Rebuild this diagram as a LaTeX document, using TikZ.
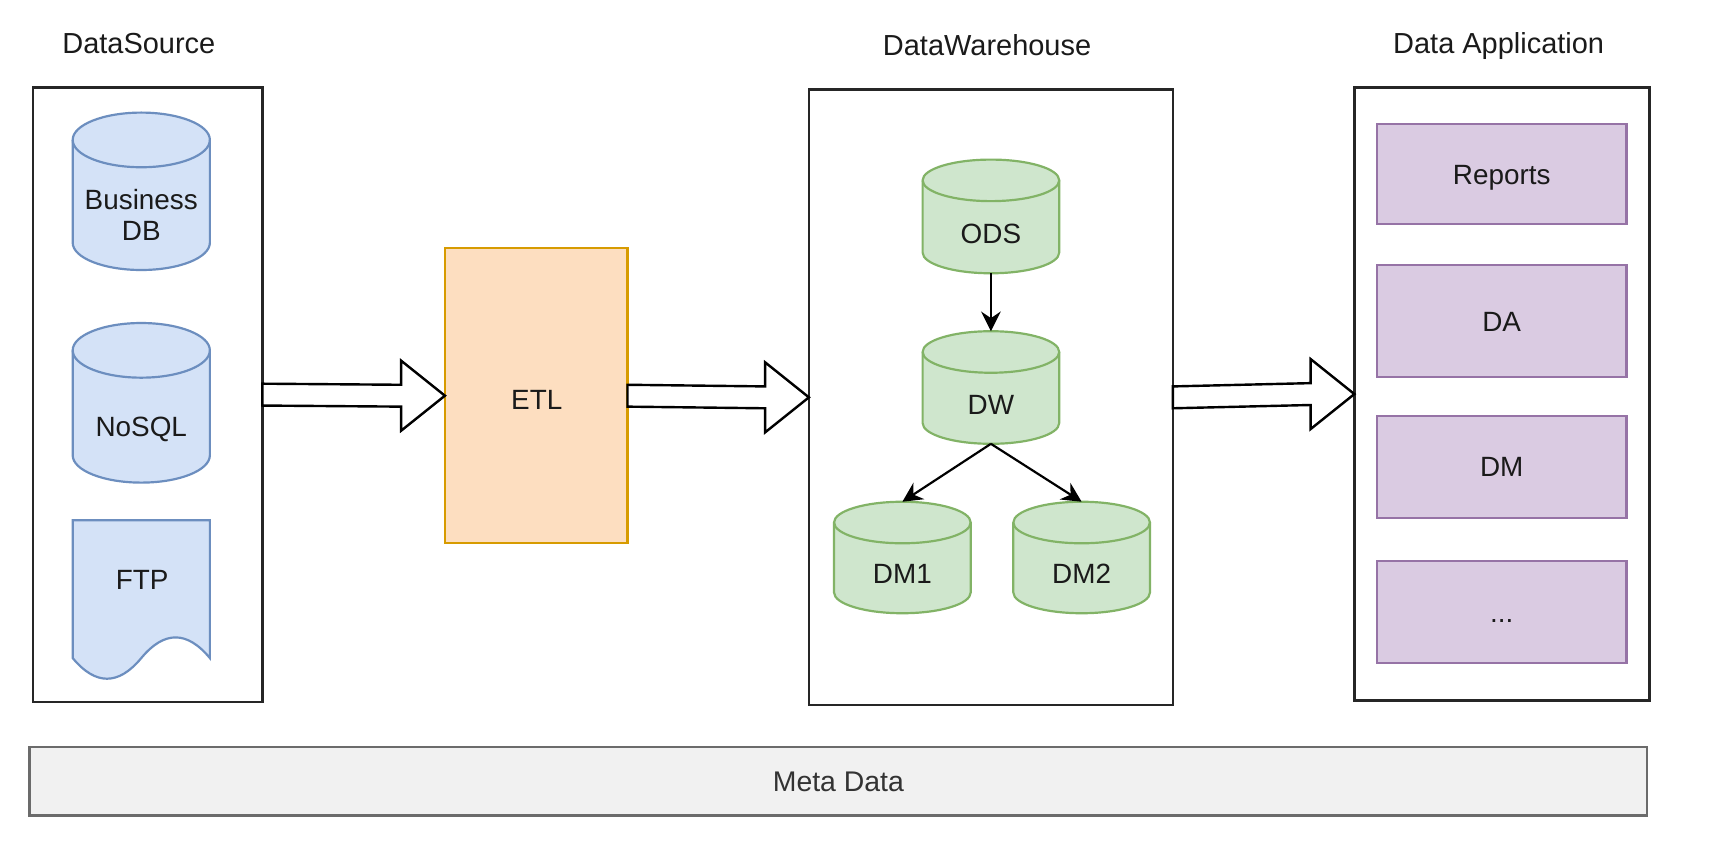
\documentclass[tikz,border=0pt]{standalone}
\usepackage{fontspec}
\setmainfont{Liberation Sans}
\usetikzlibrary{arrows.meta,calc}
\definecolor{bluefill}{HTML}{D4E2F7}
\definecolor{bluestroke}{HTML}{6C8EBF}
\definecolor{greenfill}{HTML}{CFE6CD}
\definecolor{greenstroke}{HTML}{82B366}
\definecolor{peachfill}{HTML}{FDDEC0}
\definecolor{peachstroke}{HTML}{D79B00}
\definecolor{purplefill}{HTML}{DACBE2}
\definecolor{purplestroke}{HTML}{9673A6}
\definecolor{metafill}{HTML}{F1F1F1}
\definecolor{metastroke}{HTML}{6B6B6B}
\definecolor{txt}{HTML}{1A1A1A}
\definecolor{metatxt}{HTML}{333333}

% #1 name, #2 cx, #3 cy, #4 width, #5 height, #6 ry, #7 style
\newcommand{\dbcyl}[7]{%
  \path[#7] ({#2-#4/2},{#3-#5/2+#6}) -- ({#2-#4/2},{#3+#5/2-#6})
    arc[start angle=180,end angle=360,x radius={#4*0.5pt},y radius={#6*1pt}]
    -- ({#2+#4/2},{#3-#5/2+#6})
    arc[start angle=0,end angle=180,x radius={#4*0.5pt},y radius={#6*1pt}] -- cycle;
  \path[#7,fill=none] ({#2-#4/2},{#3-#5/2+#6})
    arc[start angle=180,end angle=360,x radius={#4*0.5pt},y radius={#6*1pt}];
  \node[inner sep=0pt,outer sep=0pt,minimum width=#4,minimum height=#5] (#1) at (#2,#3) {};
}
% fat hollow arrow from #1 to #2
\newcommand{\fatarrow}[2]{%
  \draw[fatarr] let \p1=(#1), \p2=(#2) in
    (\x1,{\y1+10pt}) -- ({\x2-40pt},{\y2+10pt}) -- ({\x2-40pt},{\y2+32pt})
    -- (\x2,\y2) -- ({\x2-40pt},{\y2-32pt}) -- ({\x2-40pt},{\y2-10pt})
    -- (\x1,{\y1-10pt}) -- cycle;
}

\begin{document}
\begin{tikzpicture}[x=1pt,y=-1pt,
  font=\fontsize{25.5}{29}\selectfont, text=txt,
  lbl/.style={text height=18.4pt, text depth=0pt, inner sep=0pt},
  title/.style={lbl, font=\fontsize{26.5}{30}\selectfont},
  container/.style={draw=black!85, line width=2.2pt, fill=white, rectangle, inner sep=0pt, outer sep=0pt},
  etlbox/.style={draw=peachstroke, fill=peachfill, line width=2pt, inner sep=0pt, outer sep=0pt},
  appbox/.style={draw=purplestroke, fill=purplefill, line width=2pt, outer sep=0pt},
  bluecyl/.style={draw=bluestroke, fill=bluefill, line width=2pt},
  greencyl/.style={draw=greenstroke, fill=greenfill, line width=2pt},
  fatarr/.style={draw=black, fill=white, line width=2.2pt, line join=miter},
  thinarrow/.style={draw=black, line width=2pt, -{Stealth[length=18pt,width=18pt,inset=6pt]}},
]
\useasboundingbox (0,0) rectangle (1568,781);

% titles
\node[title] (tds) at (127,40) {DataSource};
\node[title] (tdw) at (903,42) {DataWarehouse};
\node[title] (tda) at (1371,40) {Data Application};

% containers
\node[container, minimum width=210, minimum height=562] (ds) at (135,361) {};
\node[container, minimum width=333, minimum height=563] (dwb) at (906.5,363.5) {};
\node[container, minimum width=270, minimum height=561] (dab) at (1374,360.5) {};

% data sources
\dbcyl{bdb}{129.25}{175}{125.5}{144}{25}{bluecyl}
\node[align=center, inner sep=0pt] (bdbt) at (129.25,196.5) {Business\\DB};
\dbcyl{nosql}{129.25}{368.5}{125.5}{146}{25}{bluecyl}
\node[lbl] (nosqlt) at (129.25,390) {NoSQL};
\path[bluecyl] (66.5,476) -- (192,476) -- (192,602)
  .. controls (171.07,576.8) and (150.15,576.8) .. (129.25,602)
  .. controls (108.35,627.2) and (87.43,627.2) .. (66.5,602) -- cycle;
\node[lbl] (ftp) at (130,530) {FTP};

% ETL
\node[etlbox, minimum width=167, minimum height=270] (etl) at (490.5,362) {};
\node[lbl] (etlt) at (491,365) {ETL};

% warehouse
\dbcyl{ods}{906.5}{198}{125}{104}{19}{greencyl}
\node[lbl] (odst) at (906.5,214) {ODS};
\dbcyl{dw}{906.5}{354.5}{125}{103}{19}{greencyl}
\node[lbl] (dwt) at (906.5,370) {DW};
\dbcyl{dma}{825.5}{510}{125}{102}{19}{greencyl}
\node[lbl] (dmat) at (825.5,525) {DM1};
\dbcyl{dmb}{989.5}{510}{125}{102}{19}{greencyl}
\node[lbl] (dmbt) at (989.5,525) {DM2};

\draw[thinarrow] (ods.south) -- (dw.north);
\draw[thinarrow] (dw.south) -- (dma.north);
\draw[thinarrow] (dw.south) -- (dmb.north);

% applications
\node[appbox, lbl, minimum width=228.5, minimum height=91.5] (rep) at (1373.75,159.5) {Reports};
\node[appbox, lbl, minimum width=228.5, minimum height=102.5] (da) at (1373.75,294) {DA};
\node[appbox, lbl, minimum width=228.5, minimum height=93] (dm) at (1373.75,427) {DM};
\node[appbox, lbl, minimum width=228.5, minimum height=93.5] (etc) at (1373.75,560) {...};

% fat arrows
\fatarrow{ds.east}{etl.west}
\fatarrow{etl.east}{dwb.west}
\fatarrow{dwb.east}{dab.west}

% meta data
\node[draw=metastroke, fill=metafill, line width=2pt, lbl, text=metatxt,
  font=\fontsize{26}{30}\selectfont, minimum width=1480, minimum height=63] (meta) at (767,714.5) {Meta Data};
\end{tikzpicture}
\end{document}
